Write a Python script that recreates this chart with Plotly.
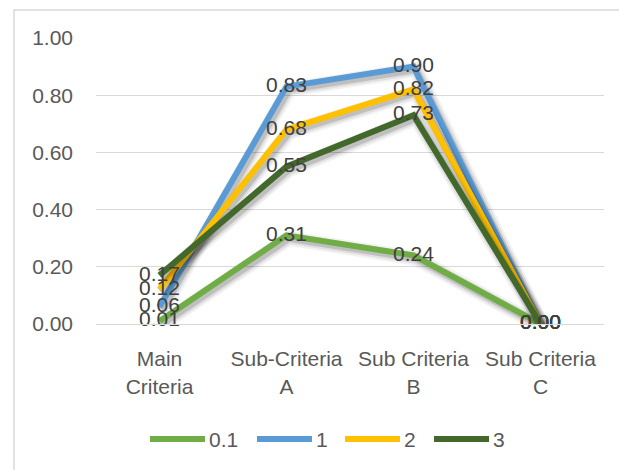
import plotly.graph_objects as go

# Chart data
categories = ["Main<br>Criteria", "Sub-Criteria<br>A", "Sub Criteria<br>B", "Sub Criteria<br>C"]
series_names = ["0.1", "1", "2", "3"]
values_01 = [0.01, 0.31, 0.24, 0.00]
values_1 = [0.06, 0.83, 0.90, 0.00]
values_2 = [0.12, 0.68, 0.82, 0.00]
values_3 = [0.17, 0.55, 0.73, 0.00]
y_ticks = [0.0, 0.2, 0.4, 0.6, 0.8, 1.0]

colors = ["#70AD47", "#5B9BD5", "#FFC000", "#43682B"]
all_values = [values_01, values_1, values_2, values_3]

W, H = 619, 470
L, R, T, B = 96, 15, 38, 146
plot_w = W - L - R
plot_h = H - T - B
x_range = [-0.5, len(categories) - 0.5]
y_range = [0, 1]
px_x = plot_w / (x_range[1] - x_range[0])
px_y = plot_h / (y_range[1] - y_range[0])

FONT = "Liberation Sans, Arial, sans-serif"
FS = 21
xs = list(range(len(categories)))


def paper_x(px):
    return (px - L) / plot_w


def paper_y(py):
    return (H - B - py) / plot_h


fig = go.Figure()

# soft drop shadow behind each line, offset down/right
sdx, sdy = 2.5 / px_x, -3.0 / px_y
for name, vals, col in zip(series_names, all_values, colors):
    for w, a in [(15, 0.05), (11, 0.08), (7, 0.14)]:
        fig.add_trace(go.Scatter(
            x=[x + sdx for x in xs], y=[v + sdy for v in vals],
            mode="lines", line=dict(color=f"rgba(0,0,0,{a})", width=w),
            showlegend=False, hoverinfo="skip", cliponaxis=False))
    fig.add_trace(go.Scatter(
        x=xs, y=vals, mode="lines", name=name,
        line=dict(color=col, width=6), cliponaxis=False, showlegend=False))

# data labels on top of all lines
for vals in all_values:
    fig.add_trace(go.Scatter(
        x=xs, y=vals, mode="text", text=[f"{v:.2f}" for v in vals],
        textposition="middle center",
        textfont=dict(family=FONT, size=FS, color="#404040"),
        showlegend=False, hoverinfo="skip", cliponaxis=False))

# legend row below the axis: swatch line + series name
legend_y = 439
legend_swatch_x = [150, 257, 345, 434]
swatch_len = 55
for name, col, sx in zip(series_names, colors, legend_swatch_x):
    fig.add_shape(type="line", xref="paper", yref="paper",
                  x0=paper_x(sx), x1=paper_x(sx + swatch_len),
                  y0=paper_y(legend_y), y1=paper_y(legend_y),
                  line=dict(color=col, width=6))
    fig.add_annotation(xref="paper", yref="paper",
                       x=paper_x(sx + swatch_len + 2), y=paper_y(legend_y),
                       text=name, showarrow=False, xanchor="left", yanchor="middle",
                       font=dict(family=FONT, size=FS, color="#595959"))

# outer chart frame
fig.add_shape(type="rect", xref="paper", yref="paper",
              x0=paper_x(14), x1=2, y0=-2, y1=paper_y(10),
              line=dict(color="#D9D9D9", width=1.5), layer="below")

fig.update_layout(
    width=W, height=H,
    margin=dict(l=L, r=R, t=T, b=B, pad=0),
    paper_bgcolor="white", plot_bgcolor="white",
    font=dict(family=FONT, size=FS, color="#595959"),
    showlegend=False,
    xaxis=dict(range=x_range, tickvals=xs, ticktext=categories,
               showgrid=False, zeroline=False, showline=True,
               linecolor="#D9D9D9", linewidth=1, ticks="",
               ticklabelstandoff=16, fixedrange=True,
               tickfont=dict(family=FONT, size=FS, color="#595959")),
    yaxis=dict(range=y_range, tickvals=y_ticks,
               ticktext=[f"{v:.2f}" for v in y_ticks],
               showgrid=True, gridcolor="#D9D9D9", gridwidth=1,
               zeroline=False, showline=False, ticks="",
               ticklabelstandoff=22, fixedrange=True,
               tickfont=dict(family=FONT, size=FS, color="#595959")),
)

fig.write_html("out.html")
